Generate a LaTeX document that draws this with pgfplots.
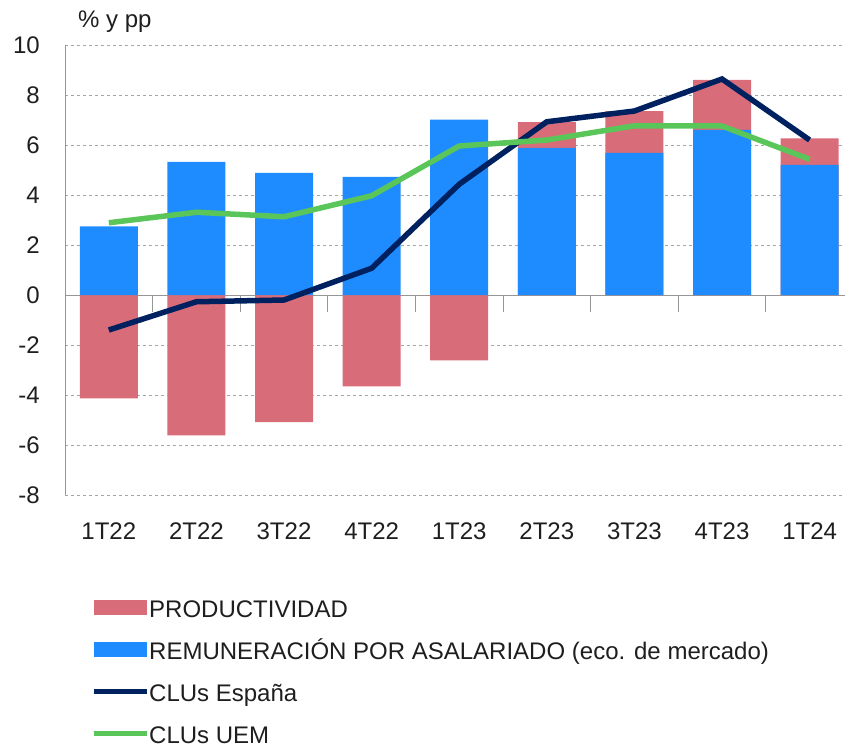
\documentclass[border=0pt]{standalone}
\usepackage{fontspec}
\setmainfont{Liberation Sans}
\usepackage{pgfplots}
\pgfplotsset{compat=1.18}
\definecolor{prodred}{RGB}{217,108,121}
\definecolor{remblue}{RGB}{30,140,255}
\definecolor{cluesp}{RGB}{0,33,96}
\definecolor{cluuem}{RGB}{90,198,90}
\definecolor{gridgray}{RGB}{165,165,165}
\definecolor{axgray}{RGB}{150,150,150}
\definecolor{txt}{RGB}{30,30,30}
\begin{document}
\begin{tikzpicture}
\pgfplotsset{
  base/.style={
    width=780pt, height=450pt, scale only axis,
    xmin=-0.5, xmax=8.404, ymin=-8, ymax=10,
    font=\fontsize{24}{28}\selectfont,
    /pgf/number format/assume math mode=true,
  }
}
\begin{axis}[base, clip=false,
  axis x line*=bottom, x axis line style={draw=none},
  axis y line*=left, y axis line style={draw=axgray, line width=1pt, -},
  xtick={0,...,8}, xticklabels={1T22,2T22,3T22,4T22,1T23,2T23,3T23,4T23,1T24},
  major tick length=0pt,
  ytick={-8,-6,...,10},
  ymajorgrids, grid style={gridgray, dash pattern=on 3pt off 3pt, line width=0.8pt},
  xticklabel style={anchor=north, inner sep=0pt, yshift=-28pt, text=txt},
  yticklabel style={anchor=east, inner sep=0pt, xshift=-25pt, text=txt},
]
\node[anchor=base west, inner sep=0pt, text=txt] at ([xshift=13pt,yshift=17.5pt]rel axis cs:0,1) {\% y pp};
\end{axis}
\begin{axis}[base,
  axis x line=middle, axis y line=none,
  x axis line style={draw=axgray, line width=1pt, -},
  xtick={0.5,1.5,...,7.5}, xticklabels={},
  tick align=center, xtick align=center, major tick length=17pt,
  x tick style={axgray, line width=1pt},
  ytick=\empty,
  ybar, bar width=58pt,
  legend style={at={(axis description cs:0.0295,-0.2111)}, anchor=north west,
    draw=none, fill=none, row sep=13.5pt,
    font=\fontsize{24}{28}\selectfont,
    nodes={inner sep=0pt, text=txt, text height=18pt, text depth=3pt},
    /tikz/every even column/.append style={column sep=6pt}},
  legend cell align=left,
]
% PRODUCTIVIDAD (negative bars; positive part drawn as total remuneracion + productividad)
\addplot[fill=prodred, draw=none, bar shift=0pt,
  legend image code/.code={\path[draw=none,fill=none] (0pt,-3pt) rectangle (53pt,18pt);\fill[prodred] (0pt,-5pt) rectangle (53pt,10pt);}]
  coordinates {(0,-4.13) (1,-5.61) (2,-5.08) (3,-3.65) (4,-2.61) (5,6.92) (6,7.36) (7,8.61) (8,6.27)};
\addlegendentry{PRODUCTIVIDAD}
% REMUNERACION POR ASALARIADO
\addplot[fill=remblue, draw=none, bar shift=0pt,
  legend image code/.code={\path[draw=none,fill=none] (0pt,-3pt) rectangle (53pt,18pt);\fill[remblue] (0pt,-5pt) rectangle (53pt,10pt);}]
  coordinates {(0,2.75) (1,5.33) (2,4.89) (3,4.73) (4,7.02) (5,5.89) (6,5.69) (7,6.61) (8,5.21)};
\addlegendentry{REMUNERACIÓN POR ASALARIADO (eco. de mercado)}
% CLUs Espana
\addplot[sharp plot, no markers, draw=cluesp, line width=5.5pt,
  legend image code/.code={\path[draw=none,fill=none] (0pt,-3pt) rectangle (53pt,18pt);\draw[cluesp, line width=5pt] (0pt,2.5pt) -- (53pt,2.5pt);}]
  coordinates {(0,-1.40) (1,-0.27) (2,-0.20) (3,1.07) (4,4.43) (5,6.93) (6,7.36) (7,8.64) (8,6.20)};
\addlegendentry{CLUs España}
% CLUs UEM
\addplot[sharp plot, no markers, draw=cluuem, line width=5.5pt,
  legend image code/.code={\path[draw=none,fill=none] (0pt,-3pt) rectangle (53pt,18pt);\draw[cluuem, line width=5pt] (0pt,2.5pt) -- (53pt,2.5pt);}]
  coordinates {(0,2.89) (1,3.31) (2,3.13) (3,3.97) (4,5.96) (5,6.20) (6,6.77) (7,6.76) (8,5.43)};
\addlegendentry{CLUs UEM}
\end{axis}
\pgfresetboundingbox
\useasboundingbox (-65pt,-253pt) rectangle (780pt,495pt);
\end{tikzpicture}
\end{document}
